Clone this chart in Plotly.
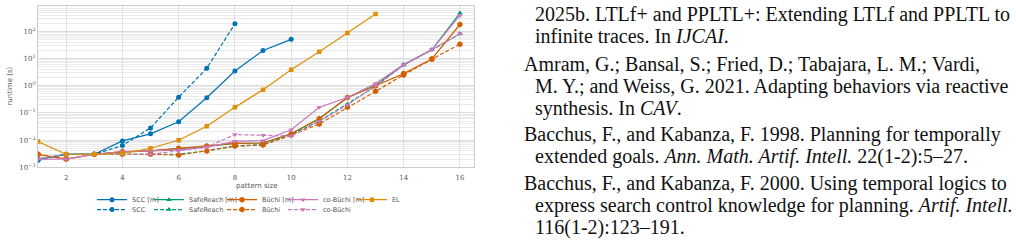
import plotly.graph_objects as go

# ---------------- data ----------------
pattern_size = list(range(1, 17))

scc_m = [0.002, 0.003, 0.003, 0.0093, 0.017, 0.047, 0.36, 3.5, 20, 51]
scc = [0.0018, 0.003, 0.003, 0.0063, 0.028, 0.38, 4.4, 190]
safereach_m = [0.002, 0.003, 0.003, 0.0036, 0.004, 0.0048, 0.0058, 0.0075, 0.0078, 0.017, 0.062, 0.36, 1.05, 6.0, 21, 475]
safereach = [0.002, 0.003, 0.003, 0.003, 0.003, 0.003, 0.004, 0.006, 0.0068, 0.016, 0.05, 0.21, 0.95, 5.8, 21, 82]
buchi_m = [0.003, 0.002, 0.003, 0.0038, 0.004, 0.005, 0.006, 0.0076, 0.0078, 0.017, 0.061, 0.37, 1.0, 2.8, 9.7, 180]
buchi = [0.003, 0.002, 0.003, 0.003, 0.003, 0.0028, 0.004, 0.006, 0.0066, 0.015, 0.039, 0.16, 0.63, 2.5, 9.5, 34]
cobuchi_m = [0.002, 0.002, 0.003, 0.0038, 0.004, 0.0043, 0.0055, 0.009, 0.0095, 0.024, 0.16, 0.37, 1.2, 6.0, 21, 390]
cobuchi = [0.002, 0.003, 0.003, 0.003, 0.003, 0.004, 0.0055, 0.016, 0.015, 0.014, 0.049, 0.2, 1.0, 5.8, 21, 82]
el = [0.0088, 0.003, 0.003, 0.0032, 0.005, 0.0098, 0.032, 0.16, 0.72, 3.9, 18, 87, 440]

x_ticks = [2, 4, 6, 8, 10, 12, 14, 16]
y_exps = [-3, -2, -1, 0, 1, 2]

ref_lines = [
    "2025b. LTLf+ and PPLTL+: Extending LTLf and PPLTL to",
    "infinite traces. In <i>IJCAI</i>.",
    "Amram, G.; Bansal, S.; Fried, D.; Tabajara, L. M.; Vardi,",
    "M. Y.; and Weiss, G. 2021. Adapting behaviors via reactive",
    "synthesis. In <i>CAV</i>.",
    "Bacchus, F., and Kabanza, F. 1998. Planning for temporally",
    "extended goals. <i>Ann. Math. Artif. Intell.</i> 22(1-2):5–27.",
    "Bacchus, F., and Kabanza, F. 2000. Using temporal logics to",
    "express search control knowledge for planning. <i>Artif. Intell.</i>",
    "116(1-2):123–191.",
]
ref_indent = [1, 1, 0, 1, 1, 0, 1, 0, 1, 1]
ref_y = [15, 37, 66, 88, 110, 137, 159, 187, 209, 231]

# ---------------- styles ----------------
W, H = 1016, 246
C_SCC = "#0173B2"
C_SR = "#029E73"
C_BU = "#D55E00"
C_CB = "#CC78BC"
C_EL = "#DE8F05"
DASH = "4px,2px"

series = [
    ("SCC [m]", scc_m, C_SCC, "solid", "circle", 5, (132, 203)),
    ("SCC", scc, C_SCC, DASH, "circle", 5, (132, 213)),
    ("SafeReach [m]", safereach_m, C_SR, "solid", "triangle-up", 5, (189, 203)),
    ("SafeReach", safereach, C_SR, DASH, "triangle-up", 5, (189, 213)),
    ("Büchi [m]", buchi_m, C_BU, "solid", "hexagon", 6, (262, 203)),
    ("Büchi", buchi, C_BU, DASH, "hexagon", 6, (262, 213)),
    ("co-Büchi [m]", cobuchi_m, C_CB, "solid", "triangle-down", 5, (323, 203)),
    ("co-Büchi", cobuchi, C_CB, DASH, "triangle-down", 5, (323, 213)),
    ("EL", el, C_EL, "solid", "square", 4.5, (392, 203)),
]

fig = go.Figure()
layout_legends = {}
for i, (name, vals, col, dash, sym, msize, (tx, ty)) in enumerate(series):
    lg = "legend" if i == 0 else f"legend{i + 1}"
    fig.add_trace(go.Scatter(
        x=pattern_size[:len(vals)], y=vals, name=name, mode="lines+markers",
        line=dict(color=col, width=1.2, dash=dash),
        marker=dict(color=col, symbol=sym, size=msize, line=dict(width=0)),
        legend=lg,
    ))
    layout_legends[lg] = dict(
        x=(tx - 40) / W, y=1 - ty / H, xanchor="left", yanchor="middle",
        xref="paper", yref="paper",
        bgcolor="rgba(0,0,0,0)", borderwidth=0,
        font=dict(family="DejaVu Sans", size=6.5, color="#555555"),
        itemwidth=30, tracegroupgap=0,
    )

minor_vals = [m * 10.0 ** k for k in range(-3, 3) for m in range(2, 10)]

fig.update_layout(
    width=W, height=H,
    margin=dict(l=0, r=0, t=0, b=0),
    paper_bgcolor="white", plot_bgcolor="white",
    showlegend=True,
    **layout_legends,
    xaxis=dict(
        domain=[38 / W, 474 / W], range=[1, 16.5],
        tickmode="array", tickvals=x_ticks, ticktext=[str(v) for v in x_ticks],
        showgrid=True, gridcolor="#e0e0e0", gridwidth=1,
        zeroline=False, showline=True, linecolor="#cccccc", linewidth=1.2, mirror=True,
        ticks="outside", ticklen=3, tickcolor="rgba(0,0,0,0)",
        tickfont=dict(family="DejaVu Serif", size=7, color="#555555"),
    ),
    yaxis=dict(
        domain=[1 - 170 / H, 1 - 6 / H], type="log", range=[-3, 2.94],
        tickmode="array", tickvals=[10.0 ** e for e in y_exps],
        ticktext=["10<sup>%s</sup>" % (str(e).replace("-", "−")) for e in y_exps],
        showgrid=True, gridcolor="#dcdcdc", gridwidth=1,
        minor=dict(tickmode="array", tickvals=minor_vals, showgrid=True,
                   gridcolor="#ebebeb", gridwidth=1, ticks=""),
        zeroline=False, showline=True, linecolor="#cccccc", linewidth=1.2, mirror=True,
        ticks="", tickfont=dict(family="DejaVu Serif", size=7, color="#555555"),
    ),
)

annots = [
    dict(text="runtime (s)", x=10 / W, y=1 - 88 / H, textangle=-90,
         font=dict(family="DejaVu Sans", size=7, color="#555555")),
    dict(text="pattern size", x=257 / W, y=1 - 189 / H,
         font=dict(family="DejaVu Sans", size=7, color="#555555")),
]
for a in annots:
    a.update(xref="paper", yref="paper", showarrow=False, xanchor="center", yanchor="middle")
    fig.add_annotation(**a)

for line, ind, yy in zip(ref_lines, ref_indent, ref_y):
    fig.add_annotation(
        text=line, x=(522 + 11 * ind) / W, y=1 - yy / H, xref="paper", yref="paper",
        xanchor="left", yanchor="middle", showarrow=False,
        font=dict(family="Liberation Serif", size=20, color="#111111"),
    )

fig.write_html("out.html")
